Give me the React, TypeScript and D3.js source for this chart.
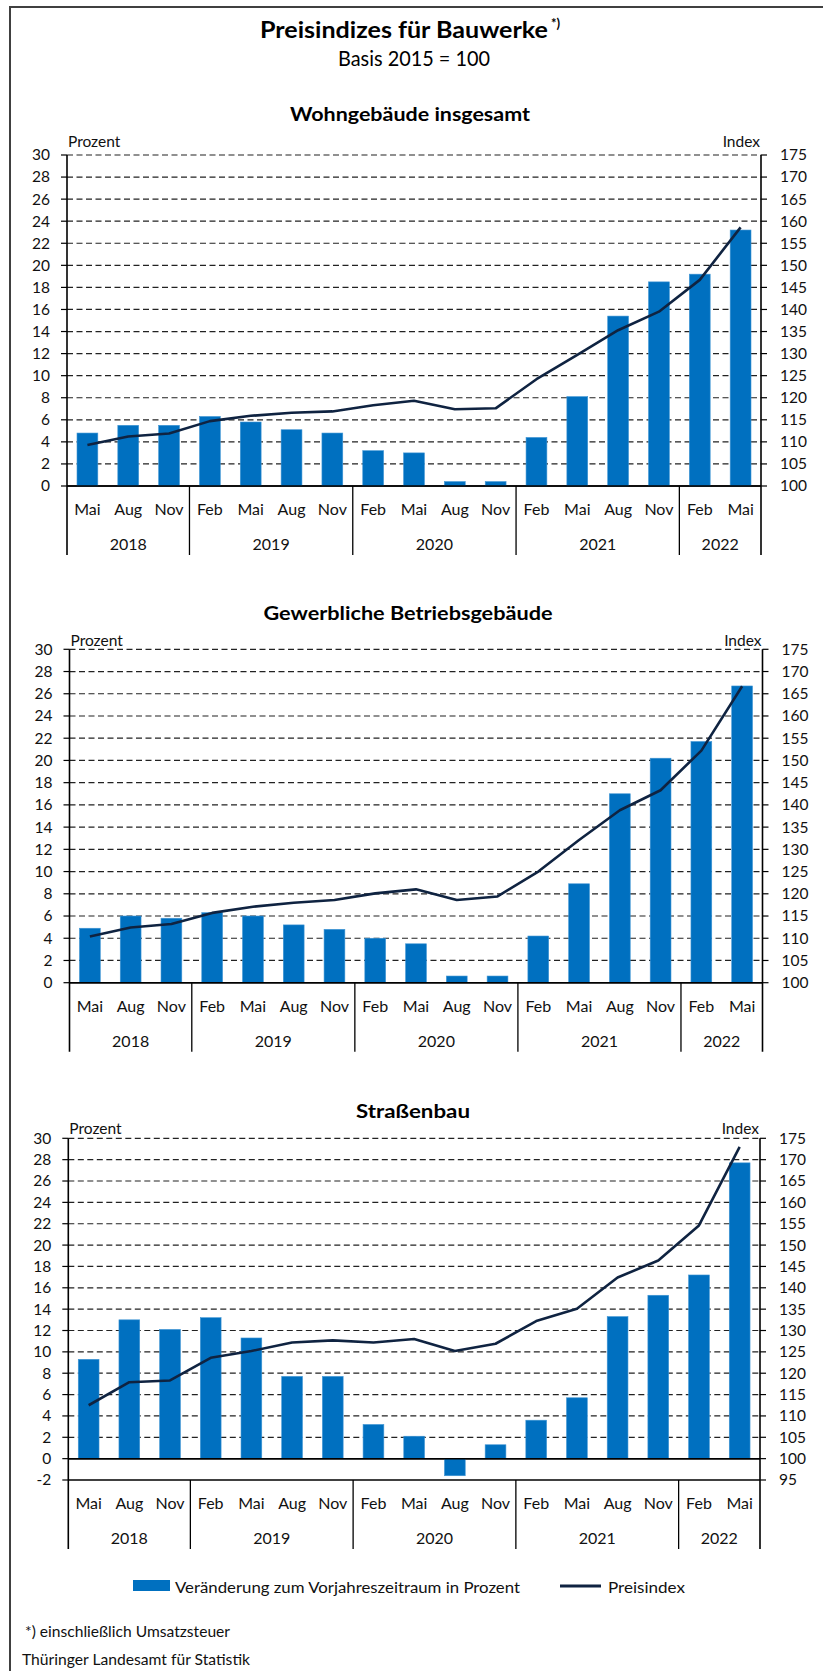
import React from "react";
import * as d3 from "d3";

// ---------- data ----------
const monthLabels = ["Mai", "Aug", "Nov", "Feb", "Mai", "Aug", "Nov", "Feb", "Mai", "Aug", "Nov", "Feb", "Mai", "Aug", "Nov", "Feb", "Mai"];
const yearLabels = ["2018", "2019", "2020", "2021", "2022"];
const yearSpans = [3, 4, 4, 4, 2];

const wohnProzent = [4.8, 5.5, 5.5, 6.3, 5.8, 5.1, 4.8, 3.2, 3.0, 0.4, 0.4, 4.4, 8.1, 15.4, 18.5, 19.2, 23.2];
const wohnIndex = [109.3, 111.2, 111.9, 114.7, 115.9, 116.6, 116.9, 118.3, 119.3, 117.4, 117.6, 124.2, 129.7, 135.3, 139.5, 146.7, 158.6];

const gewProzent = [4.9, 6.0, 5.8, 6.3, 6.0, 5.2, 4.8, 4.0, 3.5, 0.6, 0.6, 4.2, 8.9, 17.0, 20.2, 21.7, 26.7];
const gewIndex = [110.4, 112.4, 113.2, 115.7, 117.1, 118.0, 118.6, 120.1, 121.0, 118.6, 119.4, 125.0, 132.1, 138.8, 143.3, 152.2, 166.7];

const strProzent = [9.3, 13.0, 12.1, 13.2, 11.3, 7.7, 7.7, 3.2, 2.1, -1.6, 1.3, 3.6, 5.7, 13.3, 15.3, 17.2, 27.7];
const strIndex = [112.5, 117.9, 118.3, 123.6, 125.2, 127.2, 127.7, 127.2, 128.0, 125.2, 126.9, 132.2, 135.1, 142.4, 146.4, 154.6, 173.0];

const chartTitles = ["Wohngebäude insgesamt", "Gewerbliche Betriebsgebäude", "Straßenbau"];
const prozentSeries = [wohnProzent, gewProzent, strProzent];
const indexSeries = [wohnIndex, gewIndex, strIndex];
const prozentMin = [0, 0, -2];
const indexMin = [100, 100, 95];
const prozentMax = 30;
const indexMax = 175;

// ---------- layout ----------
const layouts = [
  { left: 67, right: 761, top: 155, bottom: 486, titleX: 410, titleY: 121, titleW: 240, unitY: 147 },
  { left: 69.5, right: 762.5, top: 649.3, bottom: 982.7, titleX: 408, titleY: 620, titleW: 289, unitY: 645.5 },
  { left: 68.3, right: 760, top: 1138.3, bottom: 1480, titleX: 413, titleY: 1118, titleW: 114, unitY: 1134 },
];

const FONT = "'Source Sans Pro', Lato, 'Noto Sans', sans-serif";
const BAR = "#0070c0";
const LINE = "#0f2341";

function Panel({ k }: { k: number }) {
  const L = layouts[k];
  const pv = prozentSeries[k];
  const iv = indexSeries[k];
  const pMin = prozentMin[k];
  const iMin = indexMin[k];
  const y = d3.scaleLinear().domain([pMin, prozentMax]).range([L.bottom, L.top]);
  const yR = d3.scaleLinear().domain([iMin, indexMax]).range([L.bottom, L.top]);
  const idx = d3.range(monthLabels.length);
  const band = d3.scaleBand<number>().domain(idx).range([L.left, L.right]).paddingInner(0.49).paddingOuter(0.245);
  const step = (L.right - L.left) / monthLabels.length;
  const cx = (i: number) => L.left + step * (i + 0.5);
  const leftTicks = d3.range(pMin, prozentMax + 0.001, 2);
  const rightTicks = d3.range(iMin, indexMax + 0.001, 5);
  const line = d3.line<number>().x((_, i) => cx(i)).y((d) => yR(d));
  const base = L.bottom;
  const bounds: number[] = [0];
  yearSpans.reduce((acc, n) => { bounds.push(acc + n); return acc + n; }, 0);

  return (
    <g fontFamily={FONT}>
      <text x={L.titleX} y={L.titleY} textAnchor="middle" fontWeight="bold" fontSize={18.5} textLength={L.titleW} lengthAdjust="spacingAndGlyphs" fill="#000">
        {chartTitles[k]}
      </text>
      <text x={L.left + 1} y={L.unitY} fontSize={15.5} fill="#111">Prozent</text>
      <text x={L.right - 1} y={L.unitY} fontSize={15.5} textAnchor="end" fill="#111">Index</text>

      {/* grid */}
      {leftTicks.map((t) => {
        const yy = y(t);
        const solid = t === 0 || t === pMin;
        return (
          <g key={"g" + t}>
            <line x1={L.left} x2={L.right} y1={yy} y2={yy} stroke={solid ? "#000" : "#222"} strokeWidth={solid ? 1.5 : 1.2} strokeDasharray={solid ? undefined : "6,3.5"} />
            <line x1={L.left - 6} x2={L.left} y1={yy} y2={yy} stroke="#000" strokeWidth={1.2} />
            <line x1={L.right} x2={L.right + 6} y1={yy} y2={yy} stroke="#000" strokeWidth={1.2} />
            <text x={L.left - 17} y={yy} dy="0.35em" textAnchor="end" fontSize={15.5} fill="#111">{String(t)}</text>
          </g>
        );
      })}
      {rightTicks.map((t) => (
        <text key={"r" + t} x={L.right + 19} y={yR(t)} dy="0.35em" fontSize={15.5} fill="#111">{String(t)}</text>
      ))}

      {/* bars */}
      {pv.map((v, i) => (
        <rect key={"b" + i} x={band(i)} width={band.bandwidth()} y={Math.min(y(v), y(0))} height={Math.abs(y(v) - y(0))} fill={BAR} stroke="#3f95d4" strokeWidth={0.6} />
      ))}

      {/* zero line redraw */}
      <line x1={L.left} x2={L.right} y1={y(0)} y2={y(0)} stroke="#000" strokeWidth={1.5} />

      {/* index line */}
      <path d={line(iv) || ""} fill="none" stroke={LINE} strokeWidth={2.6} strokeLinejoin="round" />

      {/* axes */}
      <line x1={L.left} x2={L.left} y1={L.top} y2={base + 69} stroke="#000" strokeWidth={1.6} />
      <line x1={L.right} x2={L.right} y1={L.top} y2={base + 69} stroke="#000" strokeWidth={1.6} />
      {bounds.slice(1, -1).map((b) => (
        <line key={"s" + b} x1={L.left + b * step} x2={L.left + b * step} y1={base} y2={base + 69} stroke="#000" strokeWidth={1.3} />
      ))}
      {monthLabels.map((m, i) => (
        <text key={"m" + i} x={cx(i)} y={base + 29} textAnchor="middle" fontSize={16} fill="#111">{m}</text>
      ))}
      {yearLabels.map((yl, j) => (
        <text key={"y" + j} x={L.left + step * (bounds[j] + bounds[j + 1]) / 2} y={base + 64} textAnchor="middle" fontSize={16} fill="#111">{yl}</text>
      ))}
    </g>
  );
}

export default function App() {
  return (
    <svg width={823} height={1671} style={{ position: "absolute", left: 0, top: 0, background: "#fff" }} fontFamily={FONT}>
      <rect x={10} y={7} width={900} height={1800} fill="none" stroke="#404040" strokeWidth={2} />
      <text x={404} y={38} textAnchor="middle" fontWeight="bold" fontSize={22} textLength={288} lengthAdjust="spacingAndGlyphs" fill="#000">Preisindizes für Bauwerke</text>
      <text x={551} y={28} fontWeight="bold" fontSize={13} fill="#000">*)</text>
      <text x={414} y={66} textAnchor="middle" fontSize={21} textLength={152} lengthAdjust="spacingAndGlyphs" fill="#000">Basis 2015 = 100</text>

      {[0, 1, 2].map((k) => <Panel key={k} k={k} />)}

      {/* legend */}
      <rect x={133} y={1580} width={37} height={11} fill={BAR} />
      <text x={175} y={1593} fontSize={16} textLength={345} lengthAdjust="spacingAndGlyphs" fill="#111">Veränderung zum Vorjahreszeitraum in Prozent</text>
      <line x1={560} x2={601} y1={1586} y2={1586} stroke={LINE} strokeWidth={3} />
      <text x={608} y={1593} fontSize={16} textLength={77} lengthAdjust="spacingAndGlyphs" fill="#111">Preisindex</text>

      {/* footer */}
      <text x={25} y={1637} fontSize={15} textLength={205} lengthAdjust="spacingAndGlyphs" fill="#111">*) einschließlich Umsatzsteuer</text>
      <text x={22} y={1665} fontSize={15} textLength={228} lengthAdjust="spacingAndGlyphs" fill="#111">Thüringer Landesamt für Statistik</text>
    </svg>
  );
}
